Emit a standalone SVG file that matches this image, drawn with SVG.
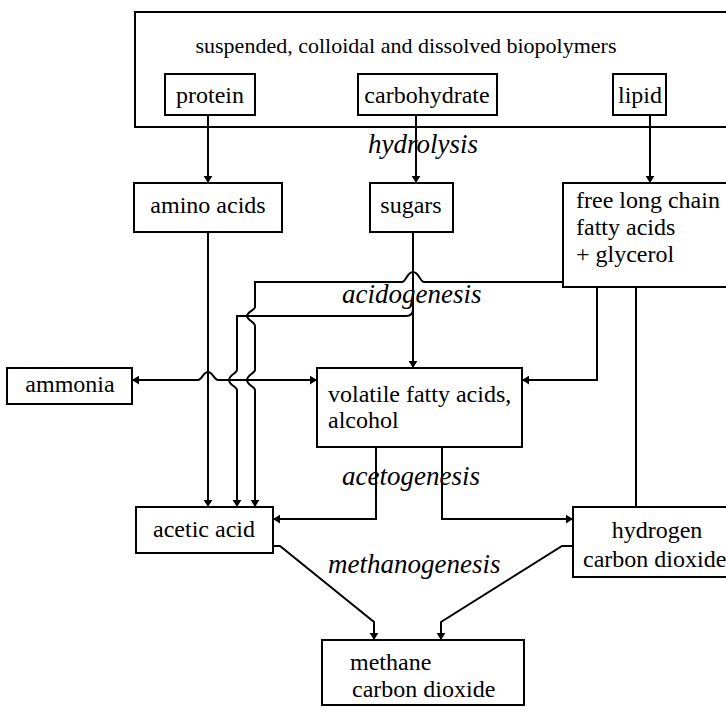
<svg xmlns="http://www.w3.org/2000/svg" width="726" height="713" viewBox="0 0 726 713">
<defs>
<style>
.box{fill:#fff;stroke:#000;stroke-width:2}
.t{font-family:"Liberation Serif","Times New Roman",serif;font-size:24px;fill:#000}
.title{font-family:"Liberation Serif","Times New Roman",serif;font-size:22px;fill:#000}
.lab{font-family:"Liberation Serif","Times New Roman",serif;font-size:27px;font-style:italic;fill:#000}
.c{fill:none;stroke:#000;stroke-width:2}
.a{marker-end:url(#arr)}
</style>
<marker id="arr" viewBox="0 0 8 10" refX="8" refY="5" markerWidth="7" markerHeight="10" markerUnits="userSpaceOnUse" orient="auto-start-reverse">
<path d="M0,0 L8,5 L0,10 z" fill="#000"/>
</marker>
</defs>
<rect width="726" height="713" fill="#fff"/>

<g id="biopolymers">
<rect class="box" x="135" y="12" width="620" height="115"/>
<text class="title" x="406" y="53" text-anchor="middle">suspended, colloidal and dissolved biopolymers</text>
</g>
<g id="protein">
<rect class="box" x="165" y="74" width="90" height="41"/>
<text class="t" x="210" y="103" text-anchor="middle">protein</text>
</g>
<g id="carbohydrate">
<rect class="box" x="358" y="74" width="139" height="41"/>
<text class="t" x="427" y="103" text-anchor="middle">carbohydrate</text>
</g>
<g id="lipid">
<rect class="box" x="613" y="74" width="53" height="41"/>
<text class="t" x="640" y="103" text-anchor="middle">lipid</text>
</g>
<g id="amino-acids">
<rect class="box" x="134" y="183" width="148" height="49"/>
<text class="t" x="208" y="213" text-anchor="middle">amino acids</text>
</g>
<g id="sugars">
<rect class="box" x="370" y="183" width="83" height="49"/>
<text class="t" x="411" y="213" text-anchor="middle">sugars</text>
</g>
<g id="lcfa">
<rect class="box" x="563" y="183" width="200" height="104"/>
<text class="t" x="576" y="208">free long chain</text>
<text class="t" x="576" y="235">fatty acids</text>
<text class="t" x="576" y="262">+ glycerol</text>
</g>
<g id="ammonia">
<rect class="box" x="7" y="368" width="125" height="36"/>
<text class="t" x="70" y="392" text-anchor="middle">ammonia</text>
</g>
<g id="vfa">
<rect class="box" x="317" y="368" width="205" height="79"/>
<text class="t" x="328" y="402">volatile fatty acids,</text>
<text class="t" x="328" y="428">alcohol</text>
</g>
<g id="acetic-acid">
<rect class="box" x="136" y="507" width="137" height="46"/>
<text class="t" x="204" y="537" text-anchor="middle">acetic acid</text>
</g>
<g id="hydrogen">
<rect class="box" x="573" y="507" width="200" height="70"/>
<text class="t" x="657" y="538" text-anchor="middle">hydrogen</text>
<text class="t" x="583" y="567">carbon dioxide</text>
</g>
<g id="methane">
<rect class="box" x="322" y="640" width="202" height="65"/>
<text class="t" x="350" y="670">methane</text>
<text class="t" x="352" y="697">carbon dioxide</text>
</g>

<g id="labels">
<text class="lab" x="368" y="153">hydrolysis</text>
<text class="lab" x="342" y="303">acidogenesis</text>
<text class="lab" x="342" y="485">acetogenesis</text>
<text class="lab" x="328" y="573">methanogenesis</text>
</g>

<g id="connectors">
<path class="c a" d="M208,115 V183"/>
<path class="c a" d="M416,115 V183"/>
<path class="c a" d="M650,115 V183"/>
<path class="c a" d="M208,232 V507"/>
<path class="c a" d="M413,232 V368"/>
<path class="c a" d="M563,282 H424 C420,282 419,272 413,272 C407,272 406,282 402,282 H255 V307 C255,310 247,312 247,316 C247,320 255,322 255,326 V370 C255,373 247,375 247,380 C247,385 255,387 255,390 V507"/>
<path class="c a" d="M413,309 Q413,316 406,316 H237 V370 C237,373 229,375 229,380 C229,385 237,387 237,390 V507"/>
<path class="c" style="marker-start:url(#arr);marker-end:url(#arr)" d="M132,380 H198 C202,380 203,372 208,372 C213,372 214,380 218,380 H317"/>
<path class="c a" d="M597,287 V380 H522"/>
<path class="c" d="M636,287 V507"/>
<path class="c a" d="M376,447 V519 H273"/>
<path class="c a" d="M442,447 V519 H573"/>
<path class="c a" d="M273,546 H280 L374,622 V640"/>
<path class="c a" d="M573,546 H562 L441,622 V640"/>
</g>
</svg>
